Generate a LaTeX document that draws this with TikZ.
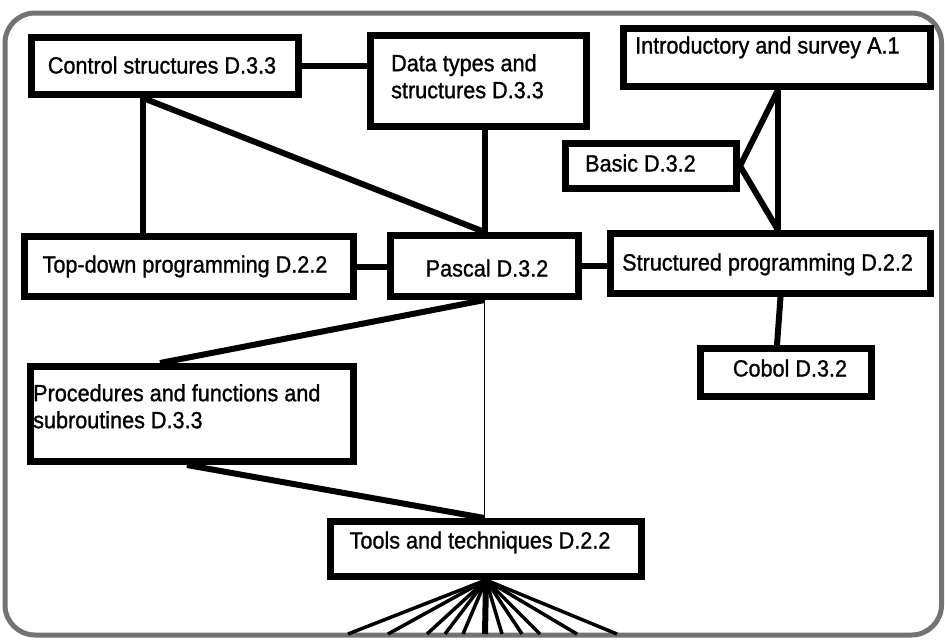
\documentclass[tikz,border=0pt]{standalone}
\usepackage{fontspec}
\setmainfont[FakeStretch=0.92,FakeBold=1.1]{Liberation Sans}
\begin{document}
\begin{tikzpicture}[x=1pt,y=-1pt,
  box/.style={draw=black, line width=7pt, rectangle, fill=white, inner sep=0pt},
  lbl/.style={inner sep=0pt, font=\fontsize{23.5}{27}\selectfont, align=left},
  conn/.style={line width=6pt},
  thinconn/.style={line width=1.8pt},
  fanline/.style={line width=3.5pt}]
\useasboundingbox (0,0) rectangle (945,641);
\fill[white] (0,0) rectangle (945,641);
\draw[line width=5pt, black!55, rounded corners=30pt] (5,13) rectangle (941.5,635);

% boxes
\node[box, minimum width=267pt, minimum height=57pt] (ctl) at (165,66) {};
\node[box, minimum width=216pt, minimum height=91pt] (data) at (478.5,81) {};
\node[box, minimum width=307pt, minimum height=58pt] (intro) at (777,57.5) {};
\node[box, minimum width=171pt, minimum height=45pt] (basic) at (651,166) {};
\node[box, minimum width=329pt, minimum height=60pt] (td) at (189,266.5) {};
\node[box, minimum width=188pt, minimum height=61pt] (pas) at (484.5,266) {};
\node[box, minimum width=320pt, minimum height=60pt] (str) at (770.5,263.5) {};
\node[box, minimum width=171pt, minimum height=48pt] (cob) at (786,372.5) {};
\node[box, minimum width=323pt, minimum height=95pt] (proc) at (192,414) {};
\node[box, minimum width=311pt, minimum height=55pt] (tools) at (486,549) {};

% labels
\node[lbl, anchor=base] (ctl-t) at (162,73.5) {Control structures D.3.3};
\node[lbl, anchor=north west] (data-t) at (391,54) {Data types and\\structures D.3.3};
\node[lbl, anchor=base west] (intro-t) at (635,53.5) {Introductory and survey A.1};
\node[lbl, anchor=base west] (basic-t) at (585,171.5) {Basic D.3.2};
\node[lbl, anchor=base] (td-t) at (185,272.5) {Top-down programming D.2.2};
\node[lbl, anchor=base] (pas-t) at (487,276.5) {Pascal D.3.2};
\node[lbl, anchor=base west] (str-t) at (622,270.5) {Structured programming D.2.2};
\node[lbl, anchor=base] (cob-t) at (790,376.5) {Cobol D.3.2};
\node[lbl, anchor=north west] (proc-t) at (33,384) {Procedures and functions and\\subroutines D.3.3};
\node[lbl, anchor=base] (tools-t) at (480,548.5) {Tools and techniques D.2.2};

% connectors
\coordinate (ctlb) at ([xshift=-22pt]ctl.south);
\coordinate (it) at (778,90);
\coordinate (st) at (it |- str.north);
\coordinate (tt) at (pas.south |- tools.north);
\draw[conn] (ctl.east) -- (ctl.east -| data.west);
\draw[conn] (ctlb) -- (ctlb |- td.north);
\draw[conn] (ctlb) -- (pas.north);
\draw[conn] (data.south -| pas.north) -- (pas.north);
\draw[conn] (td.east) -- (td.east -| pas.west);
\draw[conn] (pas.east) -- (pas.east -| str.west);
\draw[conn, line join=miter] (it) -- (basic.east) -- (st);
\draw[conn] (it) -- (st);
\draw[conn] ([xshift=10pt]str.south) -- ([xshift=-9pt]cob.north);
\draw[conn] (pas.south) -- ([xshift=-32pt]proc.north);
\draw[thinconn] (pas.south) -- (tt);
\draw[conn] ([xshift=-5pt]proc.south) -- (tt);

% fan
\foreach \i/\x in {1/348,2/388,3/427,4/445,5/463,6/502,7/522,8/540,9/577,10/617}{
  \coordinate (f\i) at (\x,634);
  \draw[fanline] (tools.south) -- (f\i);
}
\coordinate (f0) at (485,634);
\draw[conn] (tools.south) -- (f0);
\end{tikzpicture}
\end{document}
